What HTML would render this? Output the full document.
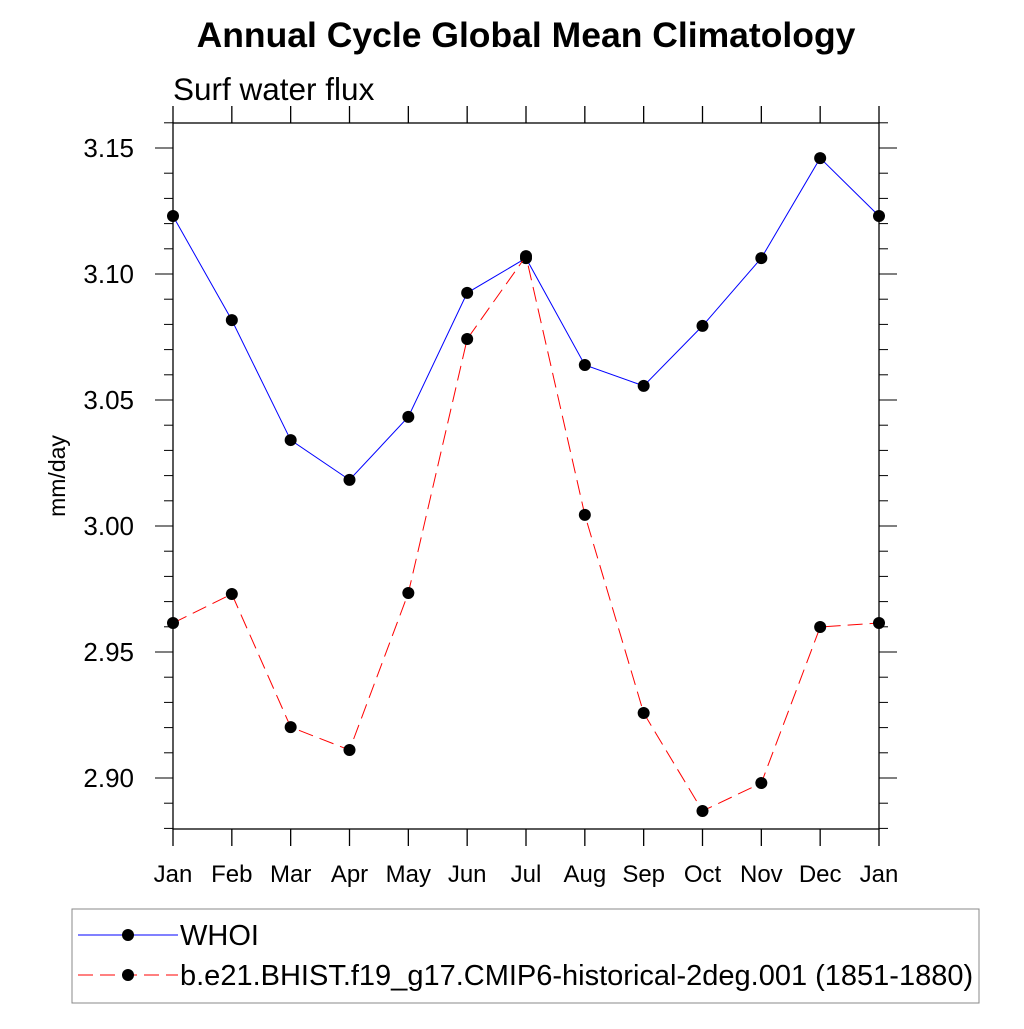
<!DOCTYPE html>
<html><head><meta charset="utf-8"><style>
body{margin:0;background:#fff;}
svg text{font-family:"Liberation Sans",sans-serif;}
</style></head><body>
<svg id="chart" width="1024" height="1024" viewBox="0 0 1024 1024" xmlns="http://www.w3.org/2000/svg">
<rect width="1024" height="1024" fill="#fff"/>
<text x="526" y="47" font-size="35.5" font-weight="bold" text-anchor="middle">Annual Cycle Global Mean Climatology</text>
<text x="173" y="100" font-size="31.5">Surf water flux</text>
<text x="0" y="0" font-size="23" text-anchor="middle" transform="translate(65,476) rotate(-90)">mm/day</text>
<g id="axes"></g>
<g id="series"></g>
<rect x="72" y="909" width="907" height="94" fill="none" stroke="#888" stroke-width="1"/>
<line x1="78" y1="935" x2="178" y2="935" stroke="#0000ff" stroke-width="1"/>
<circle cx="128" cy="935" r="6" fill="#000"/>
<text x="180" y="945" font-size="29">WHOI</text>
<line x1="78" y1="975" x2="178" y2="975" stroke="#ff0000" stroke-width="1" stroke-dasharray="15,7"/>
<circle cx="128" cy="975" r="6" fill="#000"/>
<text x="180" y="985" font-size="29">b.e21.BHIST.f19_g17.CMIP6-historical-2deg.001 (1851-1880)</text>
</svg>
<script>
const months = ["Jan","Feb","Mar","Apr","May","Jun","Jul","Aug","Sep","Oct","Nov","Dec","Jan"];
const whoi = [3.123,3.0817,3.0341,3.0183,3.0433,3.0925,3.1063,3.0639,3.0556,3.0794,3.1063,3.146,3.123];
const model = [2.9615,2.973,2.9202,2.9111,2.9734,3.0742,3.1071,3.0044,2.9258,2.8869,2.898,2.9599,2.9615];
const yTicks = ["2.90","2.95","3.00","3.05","3.10","3.15"];
const NS="http://www.w3.org/2000/svg";
const L=173,R=879,T=123,B=829;
const xs=i=>L+(R-L)*i/12;
const ys=v=>148+(3.15-v)*2520;
const ax=document.getElementById('axes'), sg=document.getElementById('series');
function mk(tag,attrs,parent){const e=document.createElementNS(NS,tag);for(const k in attrs)e.setAttribute(k,attrs[k]);parent.appendChild(e);return e;}
let fr=mk('rect',{x:L,y:T,width:R-L,height:B-T,fill:'none',stroke:'#000','stroke-width':1.3},ax);


months.forEach((m,i)=>{
  const x=xs(i);
  let t1=mk('line',{x1:x,y1:T,x2:x,y2:T-17,stroke:'#000','stroke-width':1.3},ax);
  
  
  let t2=mk('line',{x1:x,y1:B,x2:x,y2:B+17,stroke:'#000','stroke-width':1.3},ax);
  
  
  let tx=mk('text',{x:x,y:882,'font-size':24,'text-anchor':'middle'},ax);tx.textContent=m;
  
  
});
for(let k=0;k<=28;k++){
  const v=2.88+k*0.01;const y=ys(v);
  if(y<T-0.5||y>B+0.5)continue;
  const major=Math.abs(Math.round(v*100)%5)===0;
  const len=major?18:9;
  let a=mk('line',{x1:L,y1:y,x2:L-len,y2:y,stroke:'#000','stroke-width':1},ax);
  
  
  let b=mk('line',{x1:R,y1:y,x2:R+len,y2:y,stroke:'#000','stroke-width':1},ax);
  
  
}
yTicks.forEach(s=>{
  let t=mk('text',{x:134,y:ys(parseFloat(s))+9,'font-size':26,'text-anchor':'end'},ax);t.textContent=s;
  
  
});
function series(vals,color,dash,name){
  const pts=vals.map((v,i)=>xs(i)+','+ys(v)).join(' ');
  let pl=mk('polyline',{points:pts,fill:'none',stroke:color,'stroke-width':1,'stroke-dasharray':dash},sg);
  
  
  vals.forEach((v,i)=>{
    let c=mk('circle',{cx:xs(i),cy:ys(v),r:6,fill:'#000'},sg);
    
    
  });
}
series(whoi,'#0000ff','none','whoi');
series(model,'#ff0000','15,7','model');
</script>
</body></html>
